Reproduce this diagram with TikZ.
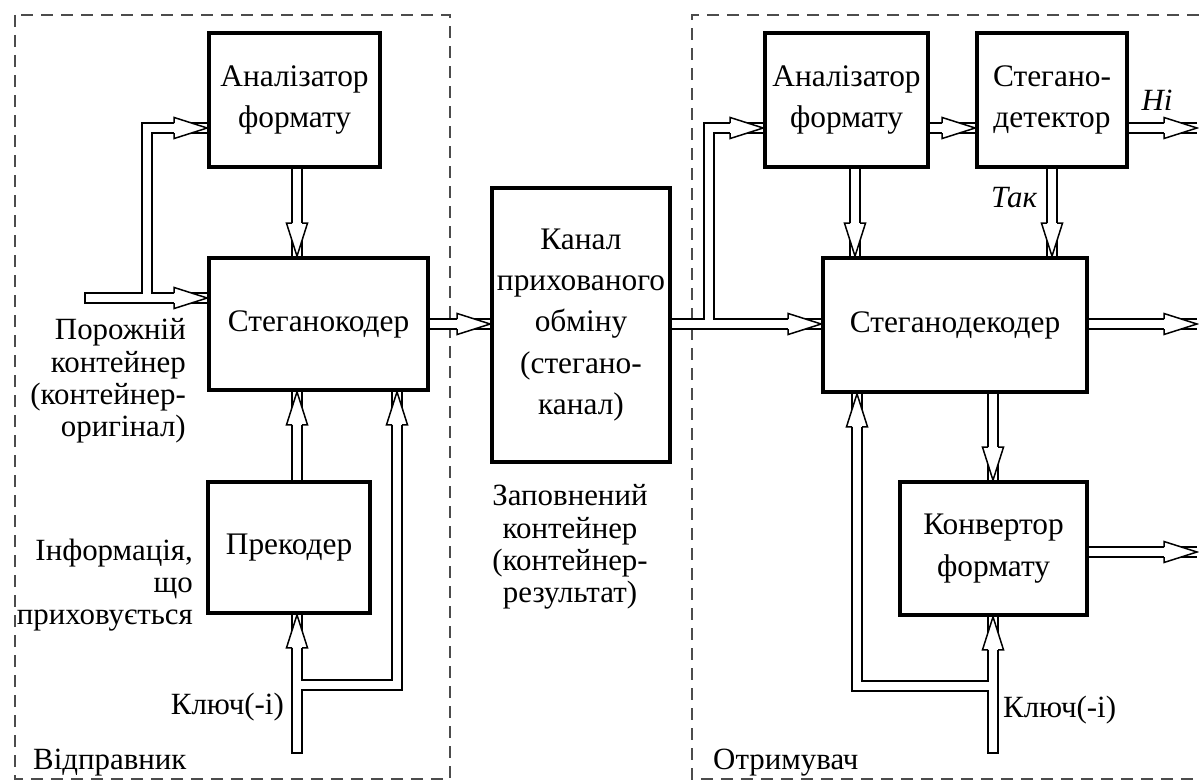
\documentclass[tikz,border=0pt]{standalone}
\usepackage{fontspec}
\setmainfont{Liberation Serif}
\usetikzlibrary{calc}
\begin{document}
\begin{tikzpicture}[x=1bp,y=-1bp,
  blk/.style={draw, line width=3.6bp, inner sep=0pt, align=center, font=\fontsize{31.5}{41.5}\selectfont},
  lbl/.style={inner sep=0pt, font=\fontsize{31}{32.5}\selectfont},
  shaft/.style={draw, line width=1.5bp, double=white, double distance=8.5bp, line join=miter, line cap=butt},
  capline/.style={line width=1.5bp},
  frame/.style={draw=black!70, line width=1.6bp, dash pattern=on 12bp off 8bp},
  ahead/.pic={\fill[white] (0,0) -- (-33,-10.5) -- (-33,10.5) -- cycle;
     \draw[line width=1.5bp, line join=miter] (-33,-5) -- (-33,-10.5) -- (0,0) -- (-33,10.5) -- (-33,5);}
]
\useasboundingbox (0,0) rectangle (1199,782);
\fill[white] (0,0) rectangle (1199,782);

% frames
\draw[frame] (15,15) rectangle (450,779);
\draw[frame] (1199,15) -- (692,15) -- (692,779) -- (1199,779);

% blocks
\node[blk, minimum width=171bp, minimum height=134bp] (an1) at (294.5,100) {Аналізатор\\формату};
\node[blk, minimum width=219bp, minimum height=132bp] (sk) at (318.5,324) {Стеганокодер};
\node[blk, minimum width=162bp, minimum height=131bp] (pk) at (289,547.5) {Прекодер};
\node[blk, minimum width=178bp, minimum height=274bp] (kanal) at (581,325) {Канал\\прихованого\\обміну\\(стегано-\\канал)};
\node[blk, minimum width=163bp, minimum height=134bp] (an2) at (846.5,100) {Аналізатор\\формату};
\node[blk, minimum width=150bp, minimum height=134bp] (det) at (1052,100) {Стегано-\\детектор};
\node[blk, minimum width=264bp, minimum height=134bp] (sd) at (955,325) {Стеганодекодер};
\node[blk, minimum width=187bp, minimum height=133bp] (kv) at (993.5,548.5) {Конвертор\\формату};

% helper coordinates
\coordinate (r128) at (0,128);
\coordinate (r298) at (0,298);
\coordinate (r324) at (0,324);
\coordinate (r552) at (0,552);
\coordinate (oc) at (1197,0);
\coordinate (c297) at (297,0);
\coordinate (c397) at (397,0);
\coordinate (c855) at (855,0);
\coordinate (c857) at (857,0);
\coordinate (c993) at (993,0);
\coordinate (inL) at (85,298);
\coordinate (j1) at (147,298);
\coordinate (j2) at (709,324);
\coordinate (kL) at (297,753);
\coordinate (kLj) at (297,685);
\coordinate (kR) at (993,753);
\coordinate (kRj) at (993,686);

% shafts
\draw[shaft] (inL) -- (sk.west |- r298) (j1) |- (an1.west |- r128);
\draw[shaft] (an1.south -| c297) -- (sk.north -| c297);
\draw[shaft] (pk.north -| c297) -- (sk.south -| c297);
\draw[shaft] (kL) -- (pk.south -| kL) (kLj) -| (sk.south -| c397);
\draw[shaft] (sk.east |- r324) -- (kanal.west |- r324);
\draw[shaft] (kanal.east |- r324) -- (sd.west |- r324) (j2) |- (an2.west |- r128);
\draw[shaft] (an2.east |- r128) -- (det.west |- r128);
\draw[shaft] (det.east |- r128) -- (r128 -| oc);
\draw[shaft] (an2.south -| c855) -- (sd.north -| c855);
\draw[shaft] (det.south) -- (det.south |- sd.north);
\draw[shaft] (sd.east |- r324) -- (r324 -| oc);
\draw[shaft] (sd.south -| c993) -- (kv.north -| c993);
\draw[shaft] (kv.east |- r552) -- (r552 -| oc);
\draw[shaft] (kR) -- (kv.south -| kR) (kRj) -| (sd.south -| c857);

% closed free ends
\draw[capline] ([yshift=-5.75bp]inL) -- ([yshift=5.75bp]inL);
\draw[capline] ([xshift=-5.75bp]kL) -- ([xshift=5.75bp]kL);
\draw[capline] ([xshift=-5.75bp]kR) -- ([xshift=5.75bp]kR);

% heads
\pic at (sk.west |- r298) {ahead};
\pic at (an1.west |- r128) {ahead};
\pic[rotate=-90] at (sk.north -| c297) {ahead};
\pic[rotate=90] at (sk.south -| c297) {ahead};
\pic[rotate=90] at (pk.south -| kL) {ahead};
\pic[rotate=90] at (sk.south -| c397) {ahead};
\pic at (kanal.west |- r324) {ahead};
\pic at (sd.west |- r324) {ahead};
\pic at (an2.west |- r128) {ahead};
\pic at (det.west |- r128) {ahead};
\pic at (r128 -| oc) {ahead};
\pic[rotate=-90] at (sd.north -| c855) {ahead};
\pic[rotate=-90] at (det.south |- sd.north) {ahead};
\pic at (r324 -| oc) {ahead};
\pic[rotate=-90] at (kv.north -| c993) {ahead};
\pic at (r552 -| oc) {ahead};
\pic[rotate=90] at (kv.south -| kR) {ahead};
\pic[rotate=90] at (sd.south -| c857) {ahead};

% labels
\node[lbl, align=right, anchor=east] (lporo) at (186,381) {Порожній\\контейнер\\(контейнер-\\оригінал)};
\node[lbl, align=right, anchor=east] (linfo) at (193,585) {Інформація,\\що\\приховується};
\node[lbl, anchor=east] (lkey1) at (284,707) {Ключ(-і)};
\node[lbl, anchor=west] (lsend) at (33,763) {Відправник};
\node[lbl, align=center] (lzap) at (570,547) {Заповнений\\контейнер\\(контейнер-\\результат)};
\node[lbl, anchor=west] (lkey2) at (1003,710) {Ключ(-і)};
\node[lbl, anchor=west] (lrecv) at (713,763) {Отримувач};
\node[lbl, font=\fontsize{31}{32.5}\selectfont\itshape] (lni) at (1157,100) {Ні};
\node[lbl, font=\fontsize{31}{32.5}\selectfont\itshape] (ltak) at (1014,198) {Так};
\end{tikzpicture}
\end{document}
